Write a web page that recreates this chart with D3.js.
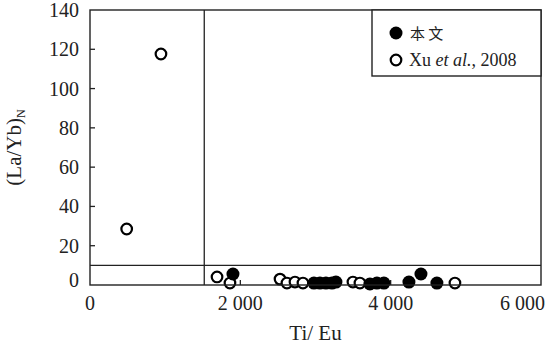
<!DOCTYPE html>
<html>
<head>
  <title>Ti/Eu vs (La/Yb)N</title>
  <script src="https://d3js.org/d3.v7.min.js"></script>
  <style>
    body { margin: 0; background: #fff; }
    svg text { font-family: "Liberation Serif", "DejaVu Serif", "Times New Roman", serif; }
    .frame { fill: none; stroke: #222; stroke-width: 1.4; }
    .guide { stroke: #222; stroke-width: 1.3; }
    .tick-label { font-size: 20px; fill: #222; }
    .axis-title { font-size: 21px; fill: #222; }
    .legend-text { font-size: 18px; fill: #222; }
  </style>
</head>
<body>
  <div id="chart"></div>
  <script>
    // Xu et al., 2008 (open circles)
    const xuTiEu = [488, 944, 1690, 1862, 2528, 2620, 2727, 2833, 3498, 3591, 4855];
    const xuLaYb = [28.5, 117.6, 4.1, 1.0, 3.0, 1.0, 1.5, 1.0, 1.5, 1.0, 1.0];

    // 本文 (filled circles)
    const thisTiEu = [1902, 2979, 3059, 3139, 3219, 3272, 3724, 3817, 3910, 4243, 4403, 4615];
    const thisLaYb = [5.6, 1.0, 1.0, 1.0, 1.0, 1.5, 0.5, 1.0, 1.0, 1.5, 5.6, 1.0];

    const xTicks = [0, 2000, 4000, 6000];
    const yTicks = [0, 20, 40, 60, 80, 100, 120, 140];
    const divideX = 1520;
    const divideY = 10;

    const W = 549, H = 344;
    const plot = {left: 90, right: 541, top: 10, bottom: 285};

    const x = d3.scaleLinear().domain([0, 6000]).range([plot.left, plot.right]);
    const y = d3.scaleLinear().domain([0, 140]).range([plot.bottom, plot.top]);

    const svg = d3.select("#chart").append("svg")
      .attr("width", W).attr("height", H);

    const fmt = v => v >= 1000 ? d3.format("d")(v).replace(/(\d)(\d{3})$/, "$1 $2") : String(v);

    // divider lines
    svg.append("line").attr("class", "guide")
      .attr("x1", plot.left).attr("x2", plot.right)
      .attr("y1", y(divideY)).attr("y2", y(divideY));
    svg.append("line").attr("class", "guide")
      .attr("x1", x(divideX)).attr("x2", x(divideX))
      .attr("y1", plot.top).attr("y2", plot.bottom);

    // inward ticks
    svg.selectAll(".ytick").data(yTicks.slice(1, -1)).enter().append("line")
      .attr("class", "guide")
      .attr("x1", plot.left).attr("x2", plot.left + 5)
      .attr("y1", d => y(d)).attr("y2", d => y(d));
    svg.selectAll(".xtick").data(xTicks.slice(1, -1)).enter().append("line")
      .attr("class", "guide")
      .attr("x1", d => x(d)).attr("x2", d => x(d))
      .attr("y1", plot.bottom).attr("y2", plot.bottom - 5);

    // tick labels
    svg.selectAll(".ylab").data(yTicks).enter().append("text")
      .attr("class", "tick-label")
      .attr("text-anchor", "end")
      .attr("x", plot.left - 11)
      .attr("y", d => y(d) + (d === 0 ? 2 : 7))
      .text(d => d);
    svg.selectAll(".xlab").data(xTicks).enter().append("text")
      .attr("class", "tick-label")
      .attr("text-anchor", d => d === 6000 ? "end" : "middle")
      .attr("x", d => d === 6000 ? x(d) + 4 : x(d))
      .attr("y", 310)
      .text(fmt);

    // axis titles
    svg.append("text").attr("class", "axis-title")
      .attr("text-anchor", "middle")
      .attr("x", (plot.left + plot.right) / 2).attr("y", 340)
      .text("Ti/ Eu");
    const yt = svg.append("text").attr("class", "axis-title")
      .attr("text-anchor", "middle")
      .attr("transform", `translate(21,${(plot.top + plot.bottom) / 2}) rotate(-90)`);
    yt.append("tspan").text("(La/Yb)");
    yt.append("tspan").style("font-size", "12px").attr("dy", 4).text("N");

    // points
    const xuData = xuTiEu.map((v, i) => ({x: v, y: xuLaYb[i]}));
    const thisData = thisTiEu.map((v, i) => ({x: v, y: thisLaYb[i]}));

    svg.selectAll(".xu").data(xuData).enter().append("circle")
      .attr("cx", d => x(d.x)).attr("cy", d => y(d.y)).attr("r", 5.3)
      .attr("fill", "#fff").attr("stroke", "#000").attr("stroke-width", 2.2);
    svg.selectAll(".this").data(thisData).enter().append("circle")
      .attr("cx", d => x(d.x)).attr("cy", d => y(d.y)).attr("r", 6.5)
      .attr("fill", "#000");

    // frame
    svg.append("rect").attr("class", "frame")
      .attr("x", plot.left).attr("y", plot.top)
      .attr("width", plot.right - plot.left).attr("height", plot.bottom - plot.top);

    // legend
    svg.append("rect").attr("class", "frame")
      .attr("x", 372).attr("y", plot.top)
      .attr("width", plot.right - 372).attr("height", 66)
      .style("fill", "#fff");
    svg.append("circle").attr("cx", 396).attr("cy", 33).attr("r", 6.5).attr("fill", "#000");
    svg.append("text").attr("class", "legend-text").attr("x", 410).attr("y", 39)
      .style("font-family", "'Noto Sans CJK SC', sans-serif").style("font-size", "15px")
      .text("本 文");
    svg.append("circle").attr("cx", 396).attr("cy", 60).attr("r", 5.3)
      .attr("fill", "#fff").attr("stroke", "#000").attr("stroke-width", 2.2);
    const lt = svg.append("text").attr("class", "legend-text").attr("x", 409).attr("y", 66);
    lt.append("tspan").text("Xu ");
    lt.append("tspan").attr("font-style", "italic").text("et al.");
    lt.append("tspan").text(", 2008");
  </script>
</body>
</html>
